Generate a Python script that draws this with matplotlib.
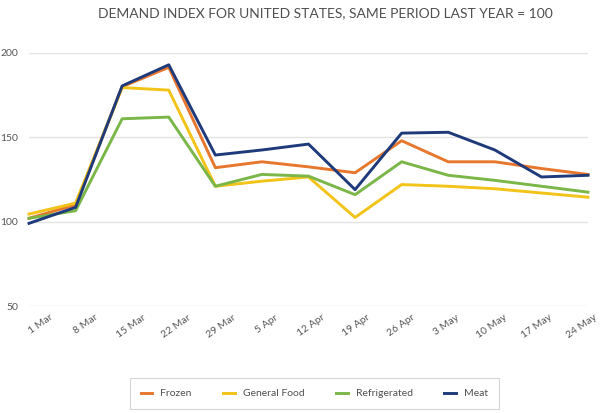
import matplotlib
matplotlib.use("Agg")
import matplotlib.pyplot as plt

dates = ["1 Mar", "8 Mar", "15 Mar", "22 Mar", "29 Mar", "5 Apr", "12 Apr",
         "19 Apr", "26 Apr", "3 May", "10 May", "17 May", "24 May"]
frozen = [102, 110, 180, 191.5, 132, 135.5, 132.5, 129, 148, 135.5, 135.5, 131.5, 128]
general_food = [104.5, 111, 179.5, 178, 121, 124, 126.5, 102.5, 122, 121, 119.5, 117, 114.5]
refrigerated = [102, 106.5, 161, 162, 121, 128, 127, 116, 135.5, 127.5, 124.5, 121, 117.5]
meat = [99, 108.5, 180.5, 193, 139.5, 142.5, 146, 119, 152.5, 153, 142.5, 126.5, 127.5]
yticks = [50, 100, 150, 200]

series = [("Frozen", frozen, "#E8772E"),
          ("General Food", general_food, "#F2C318"),
          ("Refrigerated", refrigerated, "#7AB648"),
          ("Meat", meat, "#1F3A7A")]

plt.rcParams['font.family'] = ['Lato', 'DejaVu Sans']
fig = plt.figure(figsize=(6.0, 4.13), dpi=100)
ax = fig.add_axes([29/600, (413-306)/413, (588-29)/600, (306-53)/413])

x = list(range(len(dates)))
for name, vals, col in series:
    ax.plot(x, vals, color=col, lw=2.1, label=name, clip_on=False)

n = len(dates)
ax.set_xlim(0, n - 1)
ax.set_ylim(50, 200)
ax.set_yticks(yticks)
ax.set_yticklabels([str(v) for v in yticks])
# label positions are spread slightly narrower than the data points in the reference
label_pos = [0.26 + i * (11.87 - 0.26) / (n - 1) for i in range(n)]
ax.set_xticks(label_pos)
ax.set_xticklabels(dates, rotation=35, ha='center')
ax.grid(axis='y', color='#e3e3e3', lw=1)
ax.set_axisbelow(True)
for s in ax.spines.values():
    s.set_visible(False)
ax.tick_params(axis='both', length=0, colors='#555555', labelsize=7.5)
ax.tick_params(axis='y', pad=8)
ax.tick_params(axis='x', pad=5)

fig.text(325/600, 1 - 13/413, "DEMAND INDEX FOR UNITED STATES, SAME PERIOD LAST YEAR = 100",
         ha='center', va='center', fontsize=10, color='#505050')

leg = fig.legend(loc='center', ncol=4, mode='expand',
                 bbox_to_anchor=(125/600, 1/413, 379/600, 37/413),
                 frameon=True, fancybox=False, fontsize=7.5, handlelength=1.1,
                 borderpad=1.0, labelcolor='#505050')
leg.get_frame().set_edgecolor('#cccccc')
leg.get_frame().set_linewidth(0.8)

fig.savefig("out.png", dpi=100)
